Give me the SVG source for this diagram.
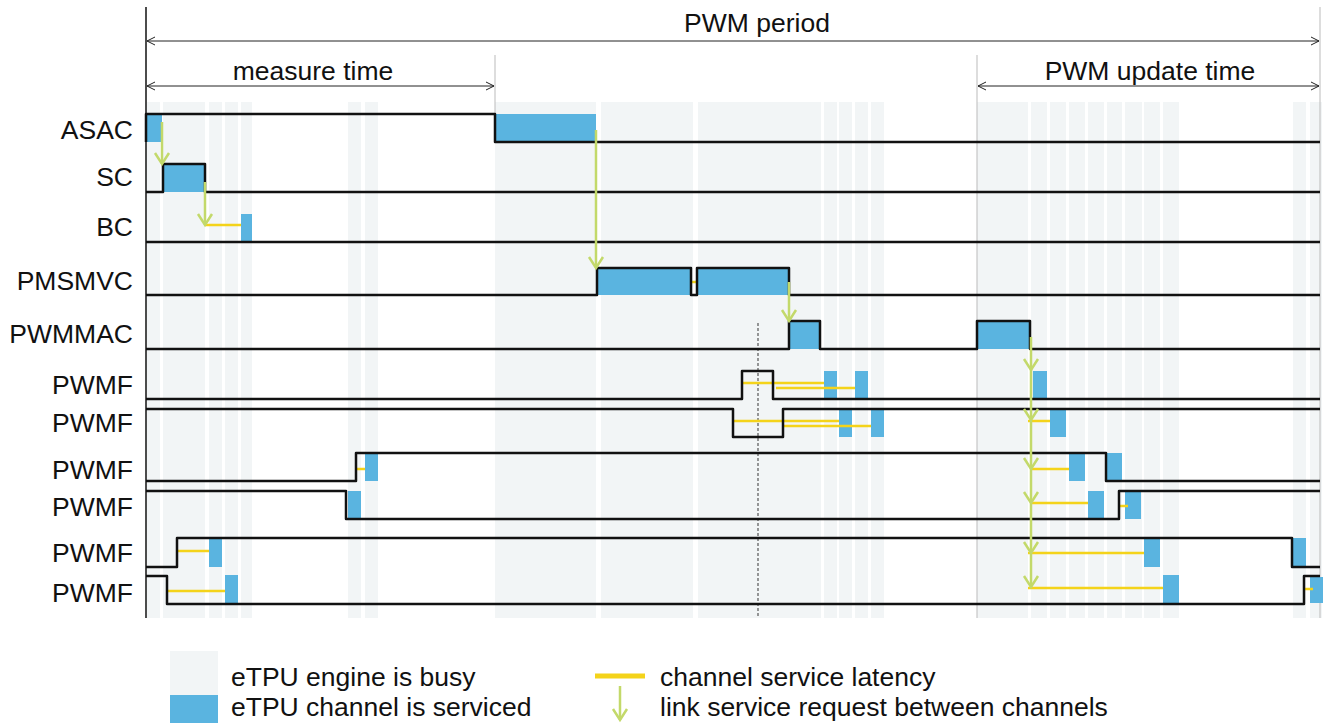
<svg xmlns="http://www.w3.org/2000/svg" xmlns:xlink="http://www.w3.org/1999/xlink" width="1323" height="723" viewBox="0 0 1323 723">
<style>
text{font-family:"Liberation Sans",Arial,sans-serif;fill:#111}
.lbl{font-size:26.5px;text-anchor:end}
.dim{font-size:26.5px;text-anchor:middle}
.leg{font-size:26.5px}
.busy{fill:#f2f5f6}
.svc{fill:#5ab4e0}
.sig{fill:none;stroke:#111;stroke-width:2.5;stroke-linejoin:round}
.lat{stroke:#f4d31a;stroke-width:2.5;fill:none}
.lnk{stroke:#c3d96a;stroke-width:2.5;fill:none}
.dl{stroke:#222;stroke-width:1;fill:none}
.gl{stroke:#bbb;stroke-width:1;fill:none}
</style>
<defs>
<path id="chev" d="M-7,-11 L0,0 L7,-11" class="lnk"/>
<marker id="ah" markerWidth="10" markerHeight="10" refX="8" refY="5" orient="auto-start-reverse" markerUnits="userSpaceOnUse">
<path d="M0,1 L8,5 L0,9" fill="none" stroke="#222" stroke-width="1"/>
</marker>
</defs>
<rect width="1323" height="723" fill="#fff"/>
<g id="busy">
<rect class="busy" x="147" y="102" width="13" height="516"/>
<rect class="busy" x="163" y="102" width="42" height="516"/>
<rect class="busy" x="209" y="102" width="13" height="516"/>
<rect class="busy" x="225" y="102" width="13" height="516"/>
<rect class="busy" x="241" y="102" width="11" height="516"/>
<rect class="busy" x="348" y="102" width="13" height="516"/>
<rect class="busy" x="365" y="102" width="13" height="516"/>
<rect class="busy" x="495" y="102" width="101" height="516"/>
<rect class="busy" x="601" y="102" width="92" height="516"/>
<rect class="busy" x="698" y="102" width="123" height="516"/>
<rect class="busy" x="824" y="102" width="13" height="516"/>
<rect class="busy" x="839" y="102" width="13" height="516"/>
<rect class="busy" x="855" y="102" width="13" height="516"/>
<rect class="busy" x="871" y="102" width="13" height="516"/>
<rect class="busy" x="977" y="102" width="51" height="516"/>
<rect class="busy" x="1031" y="102" width="16" height="516"/>
<rect class="busy" x="1050" y="102" width="16" height="516"/>
<rect class="busy" x="1069" y="102" width="16" height="516"/>
<rect class="busy" x="1088" y="102" width="16" height="516"/>
<rect class="busy" x="1107" y="102" width="15" height="516"/>
<rect class="busy" x="1125" y="102" width="17" height="516"/>
<rect class="busy" x="1144" y="102" width="16" height="516"/>
<rect class="busy" x="1163" y="102" width="16" height="516"/>
<rect class="busy" x="1293" y="102" width="13" height="516"/>
<rect class="busy" x="1310" y="102" width="12" height="516"/>
</g>
<g id="axes">
<line x1="146" y1="7" x2="146" y2="618" stroke="#111" stroke-width="1.5"/>
<line class="gl" x1="1320" y1="7" x2="1320" y2="618"/>
<line class="gl" x1="495" y1="55" x2="495" y2="114"/>
<line class="gl" x1="977" y1="55" x2="977" y2="618"/>
<line x1="758" y1="323" x2="758" y2="618" stroke="#555" stroke-width="1.2" stroke-dasharray="3,2"/>
</g>
<g id="dimensions">
<line class="dl" x1="147" y1="41" x2="1319" y2="41" marker-start="url(#ah)" marker-end="url(#ah)"/>
<text class="dim" x="757" y="32">PWM period</text>
<line class="dl" x1="147" y1="86" x2="494" y2="86" marker-start="url(#ah)" marker-end="url(#ah)"/>
<text class="dim" x="313" y="80">measure time</text>
<line class="dl" x1="978" y1="86" x2="1319" y2="86" marker-start="url(#ah)" marker-end="url(#ah)"/>
<text class="dim" x="1150" y="80">PWM update time</text>
</g>
<g id="service">
<rect class="svc" x="146" y="114" width="16" height="28"/>
<rect class="svc" x="495" y="114" width="101" height="28"/>
<rect class="svc" x="163" y="164" width="42" height="28"/>
<rect class="svc" x="241" y="214" width="11" height="28"/>
<rect class="svc" x="598" y="268" width="93" height="27"/>
<rect class="svc" x="698" y="268" width="91" height="27"/>
<rect class="svc" x="790" y="321" width="30" height="28"/>
<rect class="svc" x="978" y="321" width="52" height="28"/>
<rect class="svc" x="824" y="371" width="13" height="28"/>
<rect class="svc" x="855" y="371" width="13" height="28"/>
<rect class="svc" x="1033" y="371" width="14" height="28"/>
<rect class="svc" x="839" y="409" width="13" height="28"/>
<rect class="svc" x="871" y="409" width="13" height="28"/>
<rect class="svc" x="1050" y="409" width="16" height="28"/>
<rect class="svc" x="365" y="453" width="13" height="28"/>
<rect class="svc" x="1069" y="453" width="16" height="28"/>
<rect class="svc" x="1107" y="453" width="15" height="28"/>
<rect class="svc" x="348" y="491" width="13" height="28"/>
<rect class="svc" x="1088" y="491" width="16" height="28"/>
<rect class="svc" x="1125" y="491" width="16" height="28"/>
<rect class="svc" x="209" y="538" width="13" height="29"/>
<rect class="svc" x="1144" y="538" width="16" height="29"/>
<rect class="svc" x="1293" y="538" width="13" height="29"/>
<rect class="svc" x="225" y="575" width="13" height="28"/>
<rect class="svc" x="1163" y="575" width="16" height="28"/>
<rect class="svc" x="1310" y="577" width="13" height="26"/>
</g>
<g id="latency">
<line class="lat" x1="205" y1="225" x2="241" y2="225"/>
<line class="lat" x1="691" y1="282" x2="697" y2="282"/>
<line class="lat" x1="742" y1="383" x2="824" y2="383"/>
<line class="lat" x1="776" y1="388" x2="855" y2="388"/>
<line class="lat" x1="733" y1="421" x2="839" y2="421"/>
<line class="lat" x1="783" y1="426" x2="871" y2="426"/>
<line class="lat" x1="1028" y1="421" x2="1050" y2="421"/>
<line class="lat" x1="356" y1="469" x2="365" y2="469"/>
<line class="lat" x1="1031" y1="469" x2="1069" y2="469"/>
<line class="lat" x1="1031" y1="503" x2="1088" y2="503"/>
<line class="lat" x1="1119" y1="506" x2="1128" y2="506"/>
<line class="lat" x1="177" y1="551" x2="209" y2="551"/>
<line class="lat" x1="1028" y1="553" x2="1144" y2="553"/>
<line class="lat" x1="167" y1="591" x2="225" y2="591"/>
<line class="lat" x1="1028" y1="588" x2="1163" y2="588"/>
<line class="lat" x1="1304" y1="589" x2="1313" y2="589"/>
</g>
<g id="signals">
<path id="sig-asac" class="sig" d="M146,142 V114 H495 V142 H1320"/>
<path id="sig-sc" class="sig" d="M146,192 H163 V164 H205 V192 H1320"/>
<path id="sig-bc" class="sig" d="M146,242 H1320"/>
<path id="sig-pmsmvc" class="sig" d="M146,295 H597 V268 H691 V295 H697 V268 H789 V295 H1320"/>
<path id="sig-pwmmac" class="sig" d="M146,349 H789 V321 H820 V349 H977 V321 H1030 V349 H1320"/>
<path id="sig-pwmf1" class="sig" d="M146,399 H742 V371 H773 V399 H1320"/>
<path id="sig-pwmf2" class="sig" d="M146,409 H733 V437 H783 V409 H1320"/>
<path id="sig-pwmf3" class="sig" d="M146,481 H356 V453 H1106 V481 H1320"/>
<path id="sig-pwmf4" class="sig" d="M146,491 H346 V519 H1119 V491 H1320"/>
<path id="sig-pwmf5" class="sig" d="M146,567 H177 V538 H1292 V567 H1320"/>
<path id="sig-pwmf6" class="sig" d="M146,576 H167 V604 H1304 V576 H1320"/>
</g>
<g id="links">
<line class="lnk" x1="162" y1="122" x2="162" y2="164"/>
<use xlink:href="#chev" x="162" y="164"/>
<line class="lnk" x1="205" y1="182" x2="205" y2="225"/>
<use xlink:href="#chev" x="205" y="225"/>
<line class="lnk" x1="596" y1="130" x2="596" y2="268"/>
<use xlink:href="#chev" x="596" y="268"/>
<line class="lnk" x1="789" y1="282" x2="789" y2="321"/>
<use xlink:href="#chev" x="789" y="321"/>
<line class="lnk" x1="1031" y1="337" x2="1031" y2="588"/>
<use xlink:href="#chev" x="1031" y="370"/>
<use xlink:href="#chev" x="1031" y="420"/>
<use xlink:href="#chev" x="1031" y="469"/>
<use xlink:href="#chev" x="1031" y="503"/>
<use xlink:href="#chev" x="1031" y="553"/>
<use xlink:href="#chev" x="1031" y="587"/>
</g>
<g id="labels">
<text class="lbl" x="133" y="139">ASAC</text>
<text class="lbl" x="133" y="186">SC</text>
<text class="lbl" x="133" y="236">BC</text>
<text class="lbl" x="133" y="290">PMSMVC</text>
<text class="lbl" x="133" y="343">PWMMAC</text>
<text class="lbl" x="133" y="394">PWMF</text>
<text class="lbl" x="133" y="432">PWMF</text>
<text class="lbl" x="133" y="479">PWMF</text>
<text class="lbl" x="133" y="516">PWMF</text>
<text class="lbl" x="133" y="562">PWMF</text>
<text class="lbl" x="133" y="602">PWMF</text>
</g>
<g id="legend">
<rect class="busy" x="170" y="651" width="48" height="44"/>
<rect class="svc" x="170" y="695" width="48" height="28"/>
<text class="leg" x="231" y="686">eTPU engine is busy</text>
<text class="leg" x="231" y="716">eTPU channel is serviced</text>
<line x1="595" y1="676" x2="645" y2="676" stroke="#f4d31a" stroke-width="5"/>
<line class="lnk" x1="620" y1="686" x2="620" y2="720"/>
<use xlink:href="#chev" x="620" y="720"/>
<text class="leg" x="660" y="686">channel service latency</text>
<text class="leg" x="660" y="716">link service request between channels</text>
</g>
</svg>
